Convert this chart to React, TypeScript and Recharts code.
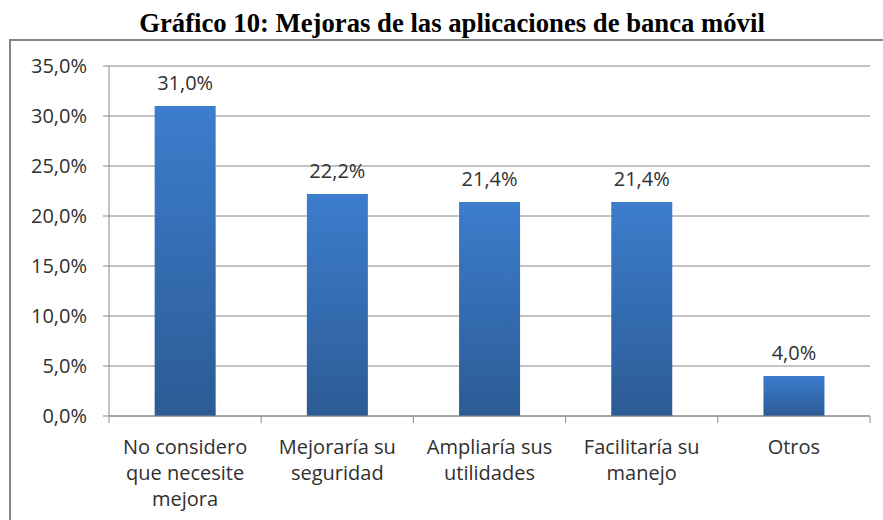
import { BarChart, Bar, XAxis, YAxis, CartesianGrid, LabelList } from "recharts";

// Gráfico 10 – mejoras de las aplicaciones de banca móvil
const categories = [
  "No considero\nque necesite\nmejora",
  "Mejoraría su\nseguridad",
  "Ampliaría sus\nutilidades",
  "Facilitaría su\nmanejo",
  "Otros",
];
const shares = [31.0, 22.2, 21.4, 21.4, 4.0];
const yTicks = [0, 5, 10, 15, 20, 25, 30, 35];

const data = categories.map((name, i) => ({ name, value: shares[i] }));

const W = 883;
const H = 520;
const PLOT = { left: 109, right: 870, top: 66, bottom: 416 };
const FONT = "'Open Sans', Lato, sans-serif";
const GRID = "#888888";
const TEXT = "#303030";

const pct = (v: number) => v.toFixed(1).replace(".", ",") + "%";

function CategoryTick(props: any) {
  const { x, y, payload, index } = props;
  const step = (PLOT.right - PLOT.left) / categories.length;
  const lines = String(payload.value).split("\n");
  return (
    <g>
      <line x1={x - step / 2} x2={x - step / 2} y1={y} y2={y + 7} stroke={GRID} />
      {index === categories.length - 1 && (
        <line x1={x + step / 2} x2={x + step / 2} y1={y} y2={y + 7} stroke={GRID} />
      )}
      <text x={x} y={y} textAnchor="middle" fill={TEXT} fontSize={20} fontFamily={FONT}>
        {lines.map((l, i) => (
          <tspan key={i} x={x} dy={i === 0 ? 38 : 26}>
            {l}
          </tspan>
        ))}
      </text>
    </g>
  );
}

export default function App() {
  return (
    <div
      style={{
        position: "absolute",
        left: 0,
        top: 0,
        width: W,
        height: H,
        overflow: "hidden",
        background: "#fff",
      }}
    >
      <div
        style={{
          position: "absolute",
          left: 20,
          top: 8,
          width: 864,
          textAlign: "center",
          fontFamily: "'Liberation Serif', 'Times New Roman', serif",
          fontWeight: "bold",
          fontSize: 26.7,
          lineHeight: "30px",
          color: "#000",
        }}
      >
        Gráfico 10: Mejoras de las aplicaciones de banca móvil
      </div>
      <div
        style={{
          position: "absolute",
          left: 9,
          top: 39,
          width: 900,
          height: 520,
          border: "2px solid #868686",
          boxSizing: "border-box",
        }}
      />
      <div style={{ position: "absolute", left: 0, top: 0 }}>
        <BarChart
          width={W}
          height={H}
          data={data}
          margin={{ top: PLOT.top, right: W - PLOT.right, bottom: H - PLOT.bottom - 60, left: PLOT.left - 100 }}
          barCategoryGap="30%"
        >
          <defs>
            <linearGradient id="barFill" x1="0" y1="0" x2="0" y2="1">
              <stop offset="0%" stopColor="#3C7DCD" />
              <stop offset="100%" stopColor="#2C5B95" />
            </linearGradient>
          </defs>
          <CartesianGrid vertical={false} stroke={GRID} />
          <XAxis
            dataKey="name"
            height={60}
            interval={0}
            tickSize={0}
            tickMargin={0}
            axisLine={{ stroke: GRID }}
            tickLine={false}
            tick={<CategoryTick />}
          />
          <YAxis
            width={100}
            domain={[0, 35]}
            ticks={yTicks}
            tickFormatter={pct}
            tickSize={6}
            tickMargin={16}
            axisLine={{ stroke: GRID }}
            tickLine={{ stroke: GRID }}
            tick={{ fill: TEXT, fontSize: 20, fontFamily: FONT }}
          />
          <Bar dataKey="value" fill="url(#barFill)" isAnimationActive={false}>
            <LabelList
              dataKey="value"
              position="top"
              offset={16}
              formatter={(v: any) => pct(Number(v))}
              fill={TEXT}
              fontSize={20}
              fontFamily={FONT}
            />
          </Bar>
        </BarChart>
      </div>
    </div>
  );
}
